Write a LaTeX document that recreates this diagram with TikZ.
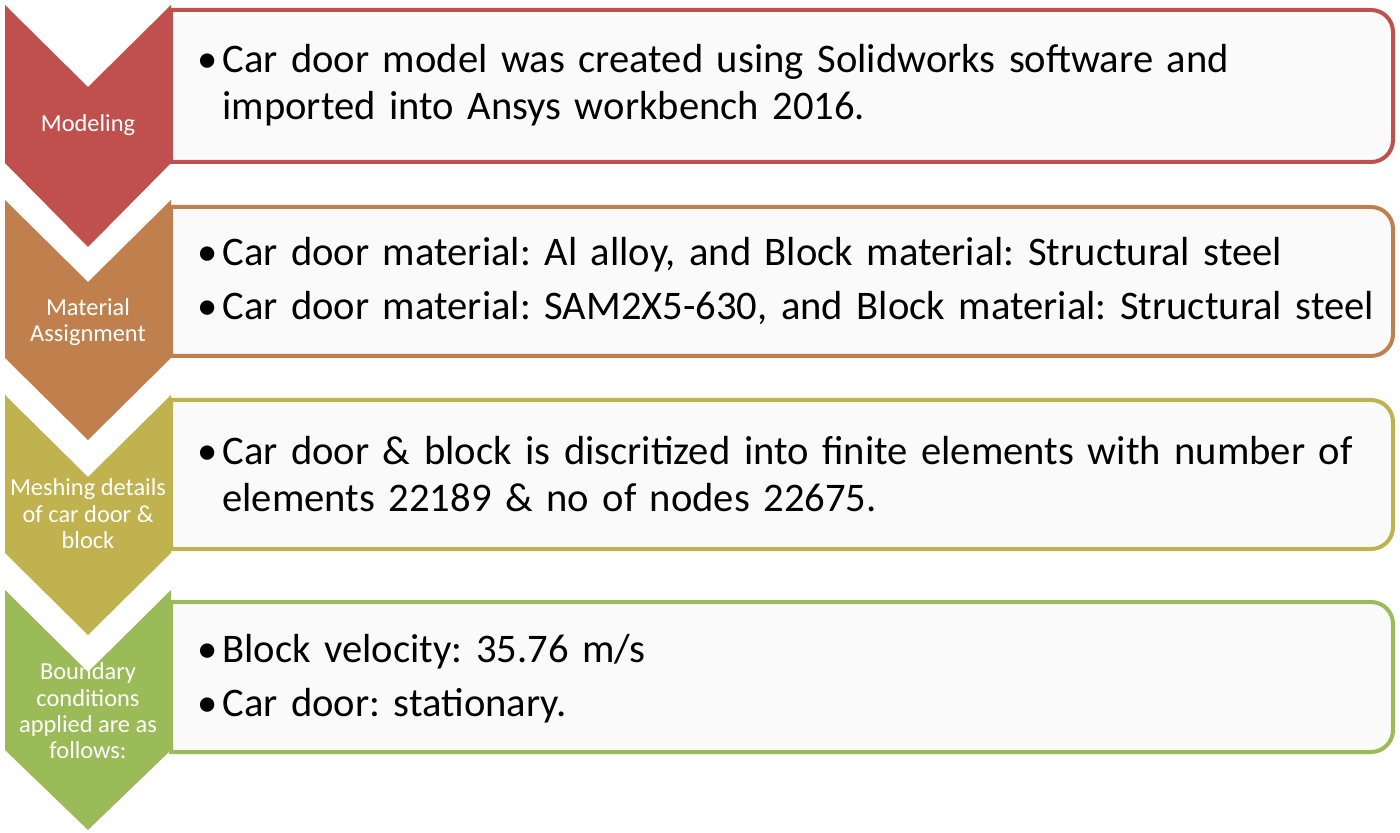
\documentclass[tikz,border=0pt]{standalone}
\usepackage{fontspec}
\setmainfont{Carlito}
\usepackage{tikz}
\usetikzlibrary{positioning,calc}
\frenchspacing
\definecolor{cmodel}{HTML}{C0504D}
\definecolor{cmater}{HTML}{C0804D}
\definecolor{cmesh}{HTML}{BFB24F}
\definecolor{cbound}{HTML}{9BBB59}
\tikzstyle{tag} = [text=white, align=center, inner sep=0pt, font=\fontsize{12.2}{13.2}\selectfont]
\tikzstyle{panel} = [line width=2pt, fill=white!98!black]
\tikzstyle{points} = [anchor=west, inner sep=0pt, text width=600pt, font=\fontsize{20.3}{23.5}\selectfont\raggedright\setlength{\parskip}{3.5pt}]
\newcommand{\bpoint}[1]{\par\hangindent=12.5pt\hangafter=1\noindent\makebox[12.5pt][l]{\textbullet}#1\par}

\begin{document}
\begin{tikzpicture}[x=0.5pt, y=-0.5pt]
        \useasboundingbox (0,0) rectangle (1400,833);
        % panels
        \path[panel, draw=cmodel] (171,10) [rounded corners=11pt] -- (1393,10) -- (1393,162) [sharp corners] -- (171,162) -- cycle;
        \path[panel, draw=cmater] (171,207) [rounded corners=11pt] -- (1393,207) -- (1393,356) [sharp corners] -- (171,356) -- cycle;
        \path[panel, draw=cmesh] (171,400) [rounded corners=11pt] -- (1393,400) -- (1393,549) [sharp corners] -- (171,549) -- cycle;
        \path[panel, draw=cbound] (171,602) [rounded corners=11pt] -- (1393,602) -- (1393,752) [sharp corners] -- (171,752) -- cycle;
        % chevrons
        \fill[cmodel] (5,5) -- (88,87) -- (171,5) -- (171,163) -- (88,247) -- (5,163) -- cycle;
        \fill[cmater] (5,200) -- (88,282) -- (171,200) -- (171,358) -- (88,440) -- (5,358) -- cycle;
        \fill[cmesh] (5,395) -- (88,477) -- (171,395) -- (171,553) -- (88,635) -- (5,553) -- cycle;
        \fill[cbound] (5,590) -- (88,672) -- (171,590) -- (171,750) -- (88,830) -- (5,750) -- cycle;
        \node[tag] (modeling) at (88,125) {Modeling};
        \node[tag] (material) at (88,322) {Material\\Assignment};
        \node[tag] (meshing) at (88,514) {Meshing details\\of car door \&\\block};
        \node[tag] (boundary) at (88,711) {Boundary\\conditions\\applied are as\\follows:};
        % texts
        \node[points] (modeltext) at (197,72) {\bpoint{Car door model was created using Solidworks software and\newline imported into Ansys workbench 2016.}};
        \node[points] (matertext) at (197,268) {\bpoint{Car door material: Al alloy, and Block material: Structural steel}\bpoint{Car door material: SAM2X5-630, and Block material: Structural steel}};
        \node[points] (meshtext) at (197,461) {\bpoint{Car door \& block is discritized into finite elements with number of\newline elements 22189 \& no of nodes 22675.}};
        \node[points] (boundtext) at (197,666) {\bpoint{Block velocity: 35.76 m/s}\bpoint{Car door: stationary.}};
\end{tikzpicture}
\end{document}
